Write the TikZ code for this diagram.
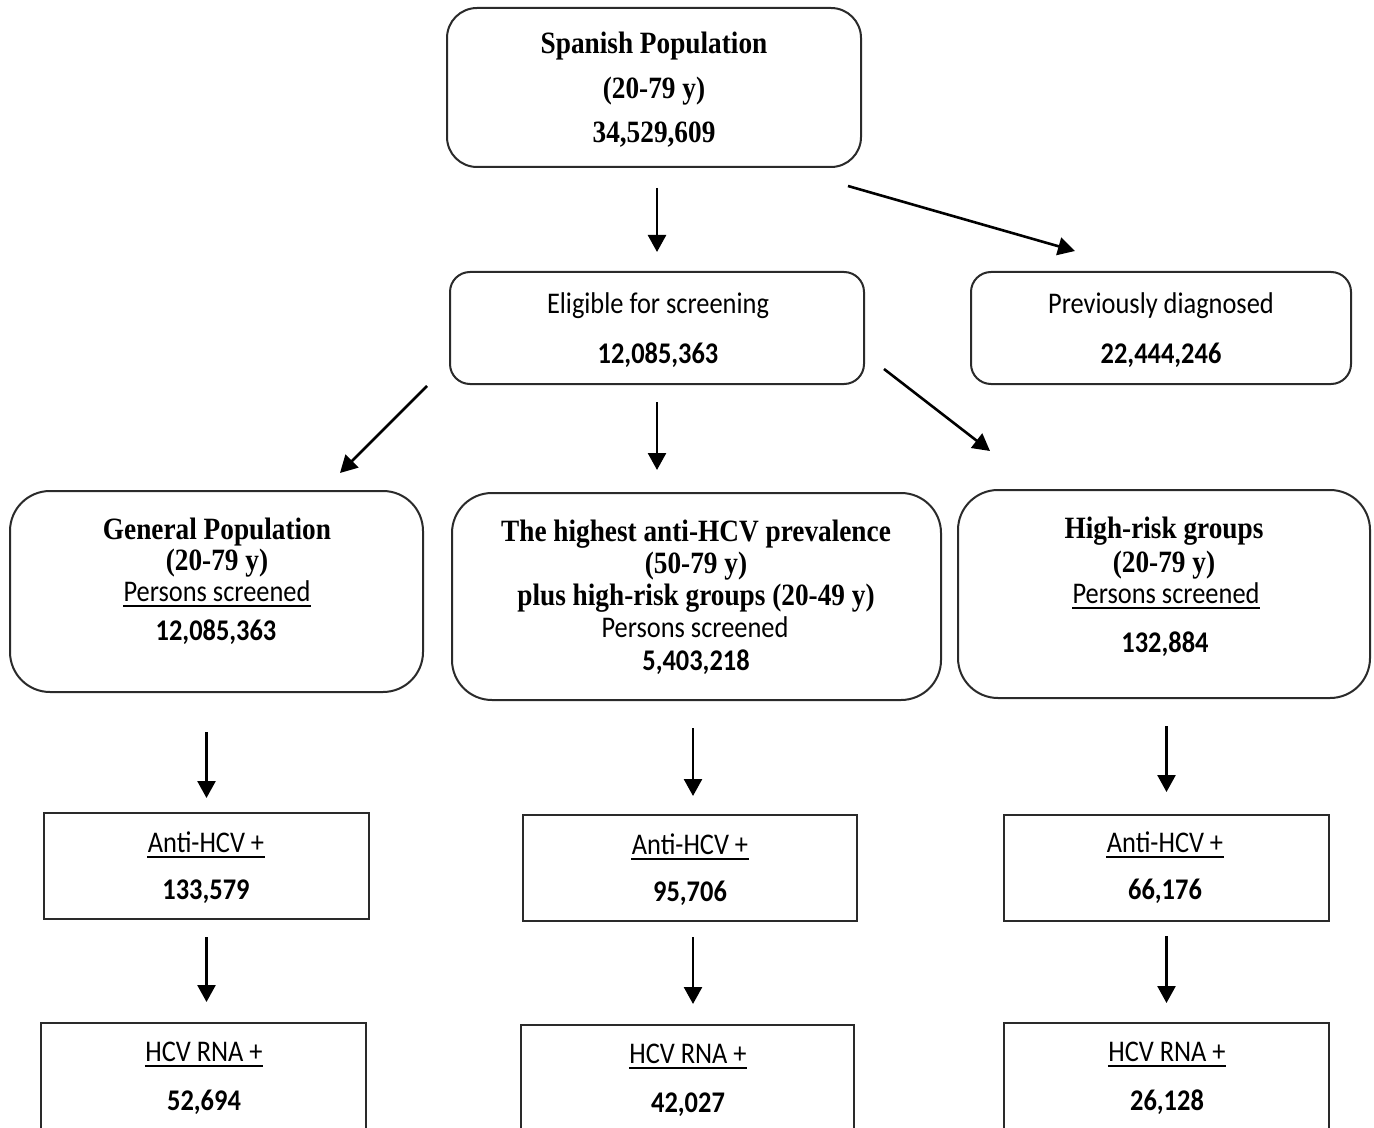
\documentclass[tikz,border=0pt]{standalone}
\usepackage{fontspec}
\setmainfont{Liberation Serif}
\newfontfamily\serifb{Liberation Serif}[FakeStretch=0.88]
\newfontfamily\calib{Carlito}[FakeStretch=0.88]
\usetikzlibrary{arrows.meta,fit}
\definecolor{boxc}{HTML}{2A2A2A}
\tikzset{
  rbox/.style={draw=boxc, line width=1pt, inner sep=0pt, rounded corners=#1},
  sbox/.style={draw=boxc, line width=1pt, inner sep=0pt},
  arr/.style={line width=1.3pt, -{Triangle[length=8.5pt,width=9pt]}},
  tser/.style={anchor=base, inner sep=0pt, font=\serifb\bfseries\fontsize{15.5}{18}\selectfont},
  tcal/.style={anchor=base, inner sep=0pt, font=\calib\fontsize{15}{18}\selectfont},
  tcalb/.style={anchor=base, inner sep=0pt, font=\calib\bfseries\fontsize{15}{18}\selectfont},
  ulline/.style={line width=1pt},
}
\newcommand\ulof[1]{\draw[ulline] ([yshift=-2.5pt]#1.base west) -- ([yshift=-2.5pt]#1.base east);}
\begin{document}
\begin{tikzpicture}[x=0.5pt,y=-0.5pt]
\useasboundingbox (0,0) rectangle (1374,1128);
\fill[white] (0,0) rectangle (1374,1128);
\clip (0,0) rectangle (1374,1128);

% boxes
\node[rbox=15pt, fit={(447,8) (861,167)}] (sp) {};
\node[rbox=10pt, fit={(450,272) (864,384)}] (elig) {};
\node[rbox=10pt, fit={(971,272) (1351,384)}] (prev) {};
\node[rbox=20pt, fit={(10,491) (423,692)}] (gen) {};
\node[rbox=20pt, fit={(452,493) (941,700)}] (mid) {};
\node[rbox=20pt, fit={(958,490) (1370,698)}] (high) {};
\node[sbox, fit={(44,813) (369,919)}] (agL) {};
\node[sbox, fit={(523,815) (857,921)}] (agM) {};
\node[sbox, fit={(1004,815) (1329,921)}] (agR) {};
\node[sbox, fit={(41,1023) (366,1160)}] (rnaL) {};
\node[sbox, fit={(521,1025) (854,1160)}] (rnaM) {};
\node[sbox, fit={(1004,1023) (1329,1160)}] (rnaR) {};

% texts
\node[tser] (sp1) at (654,54) {Spanish Population};
\node[tser] (sp2) at (654,99) {(20-79 y)};
\node[tser] (sp3) at (654,143) {34,529,609};

\node[tcal] (el1) at (658,314) {Eligible for screening};
\node[tcalb] (el2) at (658,364) {12,085,363};

\node[tcal] (pr1) at (1161,314) {Previously diagnosed};
\node[tcalb] (pr2) at (1161,364) {22,444,246};

\node[tser] (ge1) at (217,539) {General Population};
\node[tser] (ge2) at (217,570) {(20-79 y)};
\node[tcal] (ge3) at (217,601) {Persons screened};
\node[tcalb] (ge4) at (216,640) {12,085,363};
\ulof{ge3}

\node[tser] (mi1) at (696,541) {The highest anti-HCV prevalence};
\node[tser] (mi2) at (696,573) {(50-79 y)};
\node[tser] (mi3) at (696,605) {plus high-risk groups (20-49 y)};
\node[tcal] (mi4) at (695,637) {Persons screened};
\node[tcalb] (mi5) at (696,670) {5,403,218};

\node[tser] (hi1) at (1164,538) {High-risk groups};
\node[tser] (hi2) at (1164,572) {(20-79 y)};
\node[tcal] (hi3) at (1166,603) {Persons screened};
\node[tcalb] (hi4) at (1165,652) {132,884};
\ulof{hi3}

\node[tcal] (aL1) at (206,852) {Anti-HCV +};
\node[tcalb] (aL2) at (206,899) {133,579};
\ulof{aL1}
\node[tcal] (aM1) at (690,854) {Anti-HCV +};
\node[tcalb] (aM2) at (690,901) {95,706};
\ulof{aM1}
\node[tcal] (aR1) at (1165,852) {Anti-HCV +};
\node[tcalb] (aR2) at (1165,899) {66,176};
\ulof{aR1}

\node[tcal] (rL1) at (204,1061) {HCV RNA +};
\node[tcalb] (rL2) at (204,1110) {52,694};
\ulof{rL1}
\node[tcal] (rM1) at (688,1063) {HCV RNA +};
\node[tcalb] (rM2) at (688,1112) {42,027};
\ulof{rM1}
\node[tcal] (rR1) at (1167,1061) {HCV RNA +};
\node[tcalb] (rR2) at (1167,1110) {26,128};
\ulof{rR1}

% connectors
\draw[arr, shorten <=10pt, shorten >=9.5pt] (sp.south -| elig.north) -- (elig.north);
\draw[arr, shorten <=8.5pt, shorten >=11pt] (elig.south) -- (elig.south |- mid.north);

\coordinate (d1s) at (848,186);
\coordinate (d1e) at (1075,251);
\draw[arr] (d1s) -- (d1e);
\coordinate (d2s) at (427,386);
\coordinate (d2e) at (340,473);
\draw[arr] (d2s) -- (d2e);
\coordinate (d3s) at (884,369);
\coordinate (d3e) at (990,451);
\draw[arr] (d3s) -- (d3e);

\draw[arr, shorten <=19.5pt, shorten >=7pt] (gen.south -| agL.north) -- (agL.north);
\draw[arr, shorten <=13.5pt, shorten >=9pt] ([xshift=1.5pt]mid.south -| agM.north) -- ([xshift=1.5pt]agM.north);
\draw[arr, shorten <=13.5pt, shorten >=11pt] (high.south -| agR.north) -- (agR.north);

\draw[arr, shorten <=8.5pt, shorten >=10pt] (agL.south) -- (agL.south |- rnaL.north);
\draw[arr, shorten <=7.5pt, shorten >=10pt] ([xshift=1.5pt]agM.south) -- ([xshift=1.5pt]agM.south |- rnaM.north);
\draw[arr, shorten <=7pt, shorten >=9.5pt] (agR.south) -- (agR.south |- rnaR.north);
\end{tikzpicture}
\end{document}
